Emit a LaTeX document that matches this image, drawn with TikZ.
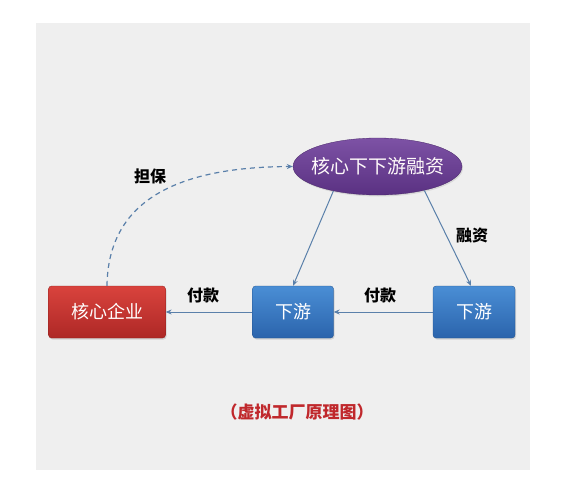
\documentclass[tikz,border=0pt]{standalone}
\usepackage{fontspec}
\newfontfamily\cjk{Noto Sans CJK SC}
\usetikzlibrary{arrows.meta,shapes.geometric,shadows}
\definecolor{panel}{HTML}{EFEFEF}
\definecolor{redtop}{HTML}{D9433D}
\definecolor{redbot}{HTML}{AE2826}
\definecolor{bluetop}{HTML}{4A8ED5}
\definecolor{bluebot}{HTML}{2B64AC}
\definecolor{purtop}{HTML}{7D52A5}
\definecolor{purbot}{HTML}{5A3182}
\definecolor{arrowc}{HTML}{5A80AA}
\definecolor{titlered}{HTML}{C0282C}
\tikzset{
  boxbase/.style={rectangle, rounded corners=3pt, inner sep=0pt,
    minimum height=52pt, text=white, font=\cjk\fontsize{18}{18}\selectfont,
    drop shadow={opacity=0.25, shadow xshift=1pt, shadow yshift=-1.5pt}},
  redbox/.style={boxbase, top color=redtop, bottom color=redbot, draw=redbot!80!black, line width=0.3pt},
  bluebox/.style={boxbase, top color=bluetop, bottom color=bluebot, draw=bluebot!80!black, line width=0.3pt},
  purell/.style={ellipse, inner sep=0pt, minimum width=169pt, minimum height=57pt,
    top color=purtop, bottom color=purbot, draw=purbot!80!black, line width=0.3pt,
    text=white!92!pink, font=\cjk\fontsize{19}{19}\selectfont,
    drop shadow={opacity=0.2, shadow xshift=1pt, shadow yshift=-1.5pt}},
  lbl/.style={font=\cjk\bfseries\fontsize{16}{16}\selectfont, text=black},
  conn/.style={draw=arrowc, line width=1pt, -{Stealth[length=6pt,width=5pt]}},
  dconn/.style={draw=arrowc, line width=1.2pt, dash pattern=on 5pt off 4pt, -{Stealth[length=6pt,width=5pt]}}
}
\begin{document}
\begin{tikzpicture}[x=1pt,y=-1pt]
\useasboundingbox (0,0) rectangle (568,495);
\fill[white] (0,0) rectangle (568,495);
\fill[panel] (36,23) rectangle (530,470);

\node[redbox, minimum width=117pt] (core) at (107,312) {核心企业};
\node[bluebox, minimum width=81pt] (d1) at (293,312) {下游};
\node[bluebox, minimum width=82pt] (d2) at (474,312) {下游};
\node[purell] (fin) at (377.5,166.5) {\makebox[0pt]{核心下下游融资}};

\draw[conn] (d1.west) -- (core.east);
\draw[conn] (d2.west) -- (d1.east);
\draw[conn] (fin.209) -- ([xshift=0pt]d1.north);
\draw[conn] (fin.333) -- ([xshift=-3pt]d2.north);
\draw[dconn] (core.north) .. controls (108,205) and (170,167) .. (fin.west);

\node[lbl] (l1) at (150,176) {担保};
\node[lbl] (l2) at (203,295) {付款};
\node[lbl] (l3) at (380,295) {付款};
\node[lbl] (l4) at (472,236) {融资};
\node[font=\cjk\bfseries\fontsize{17}{17}\selectfont, text=titlered] (title) at (297,412) {（虚拟工厂原理图）};
\end{tikzpicture}
\end{document}
